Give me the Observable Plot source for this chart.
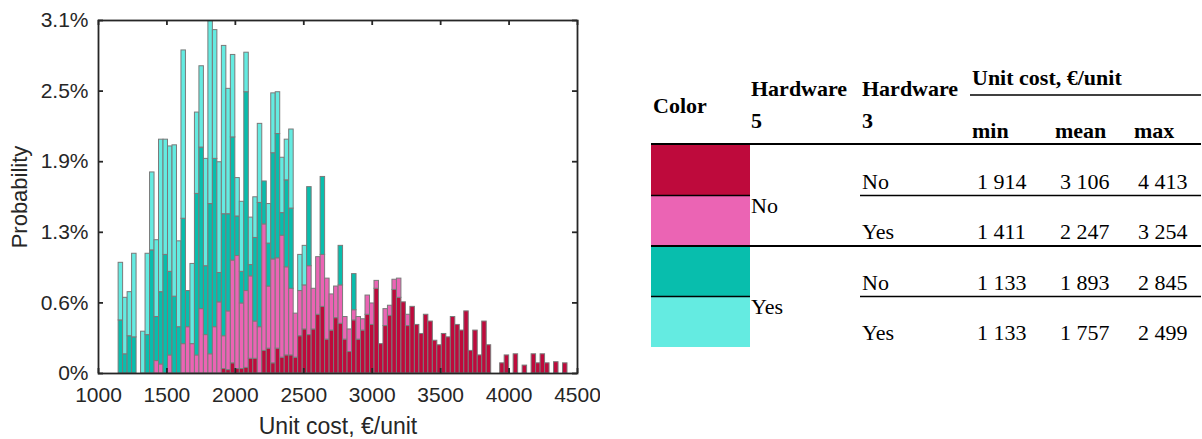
<!DOCTYPE html>
<html>
<head>
<meta charset="utf-8">
<script src="https://cdn.jsdelivr.net/npm/d3@7"></script>
<script src="https://cdn.jsdelivr.net/npm/@observablehq/plot@0.6"></script>
<style>
  html, body { margin: 0; padding: 0; background: #fff; }
  #page { position: relative; width: 1202px; height: 439px; overflow: hidden; background: #fff; }
  #chart, #legend { position: absolute; left: 0; top: 0; }
</style>
</head>
<body>
<div id="page">
  <div id="chart"></div>
  <svg id="legend" width="1202" height="439"></svg>
</div>
<script>
// Histogram bins: 100 equal bins of unit cost (€/unit)
const binStart = 1147;
const binWidth = 32.8;

// Probability per bin (%), one array per configuration, stacked bottom to top
// Hardware 5: No, Hardware 3: No
const probHw5NoHw3No = [
  0,0,0,0,0,0,0,0,0,0,
  0,0,0,0,0,0,0,0,0,0,
  0,0,0,0.04,0.03,0.09,0.04,0.04,0.05,0.13,
  0.13,0,0.20,0.22,0.09,0.22,0.14,0.16,0.16,0.14,
  0.33,0.39,0.34,0.39,0.52,0.59,0.30,0.38,0.49,0.44,
  0.30,0.19,0.47,0.30,0.38,0.52,0.43,0.75,0.26,0.42,
  0.51,0.74,0.67,0.63,0.42,0.59,0.43,0.35,0.52,0.46,
  0.29,0.25,0.35,0.32,0.50,0.43,0.38,0.55,0.20,0.38,
  0.16,0.46,0.25,0,0,0.09,0.16,0,0.17,0,
  0.07,0,0.17,0.09,0.17,0.09,0,0.10,0,0.09
];
// Hardware 5: No, Hardware 3: Yes
const probHw5NoHw3Yes = [
  0,0,0,0,0,0,0,0,0.11,0.08,
  0,0.16,0,0,0.26,0.41,0.26,0.16,0.57,0.34,
  0.17,0.41,0.63,0.29,0.52,0.91,1.00,0.58,0.68,0.73,
  0.33,0.41,1.12,0.55,0.92,0.80,1.08,0.78,0.59,0.39,
  0.40,0.39,0.61,0.36,0.51,0.46,0.54,0.32,0.28,0.34,
  0.20,0.20,0.09,0.20,0.10,0.17,0.19,0.07,0,0.15,
  0.09,0.09,0.17,0,0.10,0,0,0,0,0,
  0,0,0,0,0,0,0,0,0,0,
  0,0,0,0,0,0,0,0,0,0,
  0,0,0,0,0,0,0,0,0,0
];
// Hardware 5: Yes, Hardware 3: No
const probHw5YesHw3No = [
  0.47,0.17,0.33,0.32,0,0,0.34,1.09,0.39,0.64,
  1.05,0.74,0.68,0.41,1.11,0.32,0,1.43,1.43,0.61,
  1.33,1.49,0.26,1.08,0.86,1.09,0.35,0.28,1.76,0.10,
  0.74,1.10,0.38,0.38,0.94,1.10,0.20,0.77,0.71,0,
  0,0,0.70,0,0,0.69,0,0,0,0.35,
  0,0,0.32,0,0,0,0,0,0,0,
  0,0,0,0,0,0,0,0,0,0,
  0,0,0,0,0,0,0,0,0,0,
  0,0,0,0,0,0,0,0,0,0,
  0,0,0,0,0,0,0,0,0,0
];
// Hardware 5: Yes, Hardware 3: Yes
const probHw5YesHw3Yes = [
  0.51,0.50,0.39,0.74,0,0.37,0.72,0.69,0.68,1.35,
  1.02,1.11,1.34,0.76,1.49,0,0.71,0.72,0.72,0.95,
  1.62,1.14,0.98,1.49,1.11,0.73,0.34,0.62,0.35,0.42,
  0.36,0.70,0,0.35,0.53,0.37,0.49,0.36,0.70,0,
  0.32,0.35,0,0,0,0,0,0,0,0,
  0,0,0,0,0,0,0,0,0,0,
  0,0,0,0,0,0,0,0,0,0,
  0,0,0,0,0,0,0,0,0,0,
  0,0,0,0,0,0,0,0,0,0,
  0,0,0,0,0,0,0,0,0,0
];

// Configurations (legend table rows), in stacking order
const hardware5 = ["No", "No", "Yes", "Yes"];
const hardware3 = ["No", "Yes", "No", "Yes"];
const seriesColors = ["#BE0A3C", "#EB64B4", "#08BEAD", "#64EBE1"];
const costMin = [1914, 1411, 1133, 1133];
const costMean = [3106, 2247, 1893, 1757];
const costMax = [4413, 3254, 2845, 2499];

// Axis ticks
const xTicks = [1000, 1500, 2000, 2500, 3000, 3500, 4000, 4500];
const yTicks = [0, 0.00625, 0.0125, 0.01875, 0.025, 0.03125];
const yTickLabels = ["0%", "0.6%", "1.3%", "1.9%", "2.5%", "3.1%"];

const seriesValues = [probHw5NoHw3No, probHw5NoHw3Yes, probHw5YesHw3No, probHw5YesHw3Yes];
const seriesKeys = hardware5.map((h5, i) => `Hardware 5: ${h5}, Hardware 3: ${hardware3[i]}`);

// Long-format table for the stacked bars
const bars = [];
for (let b = 0; b < 100; b++) {
  seriesValues.forEach((vals, s) => {
    if (vals[b] > 0) {
      bars.push({x1: binStart + b * binWidth, x2: binStart + (b + 1) * binWidth, p: vals[b] / 100, key: seriesKeys[s]});
    }
  });
}

// Plot geometry
const W = 600, H = 439;
const mL = 98, mR = 23, mT = 20, mB = 66;
const xDom = [1000, 4500], yDom = [0, 0.03125];
const tickPx = 5;
const tickX = tickPx * (xDom[1] - xDom[0]) / (W - mL - mR);
const tickY = tickPx * (yDom[1] - yDom[0]) / (H - mT - mB);
const axisColor = "#262626";

const chart = Plot.plot({
  width: W, height: H,
  marginLeft: mL, marginRight: mR, marginTop: mT, marginBottom: mB,
  x: {domain: xDom, label: null},
  y: {domain: yDom, label: null},
  color: {domain: seriesKeys, range: seriesColors},
  style: {fontFamily: "'Liberation Sans', Arial, sans-serif", fontSize: "21px", color: axisColor, background: "#fff"},
  marks: [
    Plot.rectY(bars, {x1: "x1", x2: "x2", y: "p", fill: "key", stroke: "#7a7a7a", strokeWidth: 1, inset: 0}),
    // inward tick marks on all four sides
    Plot.ruleX(xTicks, {x: d => d, y1: yDom[0], y2: yDom[0] + tickY, stroke: axisColor, strokeWidth: 1.8}),
    Plot.ruleX(xTicks, {x: d => d, y1: yDom[1] - tickY, y2: yDom[1], stroke: axisColor, strokeWidth: 1.8}),
    Plot.ruleY(yTicks, {y: d => d, x1: xDom[0], x2: xDom[0] + tickX, stroke: axisColor, strokeWidth: 1.8}),
    Plot.ruleY(yTicks, {y: d => d, x1: xDom[1] - tickX, x2: xDom[1], stroke: axisColor, strokeWidth: 1.8}),
    Plot.frame({stroke: axisColor, strokeWidth: 1.8}),
    Plot.axisX({ticks: xTicks, tickSize: 0, tickPadding: 14, tickFormat: d => String(d), fontSize: 21, label: null}),
    Plot.axisX({ticks: [], tickSize: 0, fontSize: 23,
      label: "Unit cost, €/unit", labelAnchor: "center", labelOffset: 60, labelArrow: "none"}),
    Plot.axisY({ticks: yTicks, tickSize: 0, tickPadding: 10, tickFormat: d => yTickLabels[Math.round(d / yTicks[1])], fontSize: 21, label: null}),
    Plot.axisY({ticks: [], tickSize: 0, fontSize: 22,
      label: "Probability", labelAnchor: "center", labelOffset: 87, labelArrow: "none"})
  ]
});
document.getElementById("chart").appendChild(chart);

// Legend table with summary statistics
const fmt = v => d3.format(",")(v).replace(/,/g, " ");
const svg = d3.select("#legend");
const serif = "'Liberation Serif', 'Times New Roman', serif";
const fs = 22;
const colX = {color: 651, hw5: 751, hw3: 862, min: 977, mean: 1060, max: 1138, right: 1201};
const headX = {min: 972, mean: 1055, max: 1134};
const rowTop = 145, rowH = 50.5;

function text(x, y, s, bold) {
  svg.append("text").attr("x", x).attr("y", y).attr("font-family", serif)
    .attr("font-size", fs).attr("font-weight", bold ? "bold" : "normal").attr("fill", "#000").text(s);
}
function rule(x1, x2, y, w) {
  svg.append("line").attr("x1", x1).attr("x2", x2).attr("y1", y).attr("y2", y)
    .attr("stroke", "#000").attr("stroke-width", w);
}

// header
text(colX.color + 2, 113, "Color", true);
text(colX.hw5, 96, "Hardware", true);
text(colX.hw5, 128, "5", true);
text(colX.hw3, 96, "Hardware", true);
text(colX.hw3, 128, "3", true);
text(headX.min, 85, "Unit cost, €/unit", true);
rule(970, colX.right, 95, 1.6);
text(headX.min, 138, "min", true);
text(headX.mean, 138, "mean", true);
text(headX.max, 138, "max", true);

// body rows
seriesColors.forEach((c, i) => {
  const y0 = rowTop + i * rowH;
  svg.append("rect").attr("x", colX.color).attr("y", y0).attr("width", 99).attr("height", rowH).attr("fill", c);
  const base = y0 + 43.5;
  text(colX.hw3, base, hardware3[i], false);
  text(colX.min, base, fmt(costMin[i]), false);
  text(colX.mean, base, fmt(costMean[i]), false);
  text(colX.max, base, fmt(costMax[i]), false);
});
// Hardware 5 labels, one per pair of rows
[0, 2].forEach(i => text(colX.hw5, rowTop + i * rowH + 68, hardware5[i], false));

// rules
rule(colX.color, colX.right, rowTop - 1, 1.8);
rule(colX.color, colX.right, rowTop + 2 * rowH, 1.8);
[1, 3].forEach(i => {
  const y = rowTop + i * rowH;
  rule(colX.color, colX.color + 99, y, 1.6);
  rule(860, colX.right, y, 1.6);
});
</script>
</body>
</html>
